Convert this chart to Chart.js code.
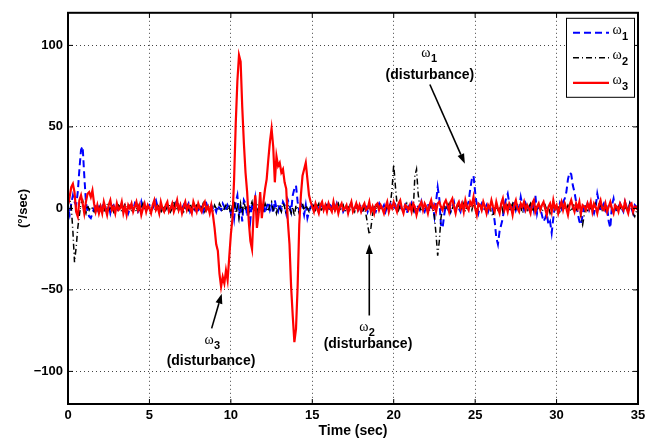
<!DOCTYPE html>
<html>
<head>
<meta charset="utf-8">
<script src="https://cdn.jsdelivr.net/npm/chart.js@4/dist/chart.umd.min.js"></script>
<style>
  html, body { margin: 0; padding: 0; background: #fff; }
</style>
</head>
<body>
<canvas id="grafico" width="658" height="441"></canvas>
<script>
// sample step of the recorded angular rates (sec)
var dt = 0.1;
var xTicks = [0, 5, 10, 15, 20, 25, 30, 35];
var yTicks = [-100, -50, 0, 50, 100];
var nombres = ['1', '2', '3'];

// omega 1 (blue, dashed), one row per second
var omega1 = [
  0, -4, 3, 8, 4, 2, 10, 24, 36, 38,
  20, 4, -2, -5, -6, -3, 0, 2, -1, 1,
  -2, 1, 3, -1, 0, 2, -3, 1, 2, -1,
  1, -2, 0, 3, -1, 2, 1, -3, 0, 2,
  -1, 3, 1, -2, 0, 4, -1, 2, -2, 1,
  2, -1, 0, 3, 5, 1, -2, 0, 2, -1,
  1, 3, -2, 0, 2, -1, 3, 5, 1, -2,
  0, 2, -1, 1, 3, -2, 0, 1, -1, 2,
  -1, 0, 2, -2, 1, 3, 0, -1, 2, 0,
  1, -2, 2, 0, -1, 3, 1, -2, 2, 0,
  -3, 2, -6, 4, 8, -4, 2, -8, 5, 3,
  -5, 2, -7, 4, -2, 6, -4, 0, 3, -2,
  2, -3, 1, 4, -1, 2, -3, 5, 0, -2,
  3, -1, 4, 2, -3, 5, 2, -2, 8, 12,
  14, 4, -2, 3, 1, -4, 2, -6, -2, 1,
  2, -1, 0, 3, -2, 1, 2, -1, 0, 2,
  -1, 2, 1, -2, 0, 3, -1, 1, 2, -2,
  0, 1, -2, 2, 3, -1, 0, 2, -2, 1,
  2, -1, 0, 3, -2, 1, -1, 2, 0, -2,
  1, 3, -1, 0, 2, -2, 1, 0, 3, -1,
  0, 2, -2, 1, 4, -1, 0, 2, -3, 1,
  -1, 3, 0, -2, 2, 1, -1, 4, 0, -2,
  1, 3, -2, 0, 2, -5, 4, 13, 6, -10,
  -12, -4, 2, 0, 3, -2, 1, 4, -1, 2,
  0, -2, 3, 1, -1, 2, 4, 12, 18, 20,
  10, 2, -3, 1, 3, -1, 0, 2, -2, 1,
  2, -1, -8, -18, -22, -14, -10, -6, 2, 6,
  9, 3, -2, 1, 4, -1, 2, 0, 7, 2,
  -1, 3, 0, -2, 2, 4, -1, 8, -3, 2,
  0, -4, -8, -6, -3, -10, -8, -15, -6, 2,
  1, -2, 3, 0, 4, 6, 10, 18, 22, 21,
  14, 10, 4, -3, -8, -10, -4, 2, 0, 3,
  -1, 2, 0, -3, 1, 9, 4, -2, 1, 3,
  -1, 2, -8, -12, 2, 6, 0, -2, 1, 3,
  0, -2, 4, 1, -1, 3, 0, -3, 2, 1,
  0
];

// omega 2 (black, dash-dot)
var omega2 = [
  2, 6, 1, -14, -33, -24, -12, -4, 3, 5,
  0, -3, 2, -1, 1, 0, -2, 2, 1, -1,
  2, 0, -2, 1, 3, -1, 0, 2, -2, 1,
  -1, 2, 1, -2, 0, 3, -1, 1, 2, -2,
  0, 1, -2, 2, -1, 0, 3, -1, 1, 0,
  2, -2, 1, 0, -1, 2, 1, -3, 0, 2,
  -1, 1, 3, -2, 0, 4, -1, 2, -2, 1,
  0, -2, 2, 1, -1, 3, 0, -2, 1, 2,
  -1, 1, 0, 3, -2, 0, 2, -1, 1, -2,
  2, 0, -1, 3, 1, -2, 0, 2, -1, 1,
  -4, 2, 5, -3, 1, -6, 3, -2, 4, 0,
  2, -3, 1, 4, -2, 0, 3, -4, 1, 2,
  -1, 3, 0, -2, 2, 4, -1, 1, -3, 2,
  0, -2, 3, 1, -4, 2, 0, -3, 1, -5,
  2, 0, -3, 1, 3, -1, 2, 0, -2, 1,
  0, 2, -1, 1, 3, -2, 0, 1, -1, 2,
  1, -1, 0, 2, -2, 1, 3, -1, 0, 2,
  -2, 0, 1, -1, 2, 0, -2, 3, 1, -1,
  0, -2, 1, -4, -10, -16, -12, -4, 1, 0,
  2, -1, 1, 0, -2, 2, 0, 1, 3, 12,
  27, 14, 3, -1, 2, 0, -2, 1, 3, -1,
  0, 2, -1, 20, 24, 9, 1, -2, 0, 2,
  1, -2, 0, 2, 1, -5, -16, -29, -20, -6,
  0, 2, -1, 1, 3, -2, 0, 2, -1, 1,
  2, -1, 0, 3, -2, 1, 0, 2, -1, 3,
  1, -2, 0, 2, -1, 3, 0, -2, 1, 2,
  -3, -5, 1, 2, -1, 0, 3, -2, 1, 0,
  2, -1, 1, 3, -2, 0, 2, -1, 1, -3,
  0, 2, -1, 1, 3, -2, 0, 1, -1, 2,
  1, -2, 0, 2, -1, 1, -3, 0, 2, -1,
  0, 2, -2, 1, 0, 3, -1, 2, 0, -2,
  1, 3, -1, 0, 2, -6, -10, -4, 1, -1,
  2, 0, -2, 1, 3, -1, 0, 2, -1, 1,
  0, -2, 1, 3, -1, 0, 2, -2, 1, 0,
  2, -1, 0, 1, -2, 3, 0, -3, -5, -2,
  0
];

// omega 3 (red, solid)
var omega3 = [
  2, 7, 13, 15, 10, -2, -5, 5, 8, 3,
  -3, 4, 9, 10, 7, 11, 3, -2, 2, -3,
  1, -3, 4, 0, -4, 2, 5, -1, 1, -3,
  3, -1, 0, 4, -3, 1, -4, 2, 0, 3,
  -2, 1, 4, -1, 2, -4, 0, 3, -2, 2,
  0, -3, 2, 5, -1, 1, -3, 4, 0, -2,
  2, 4, -2, 0, 3, -2, 1, 5, -1, 2,
  -3, 1, 4, -1, 2, 0, -3, 4, 1, -2,
  3, 0, -2, 2, 4, -1, 1, -3, 2, -4,
  -12, -22, -26, -40, -48, -42, -46, -38, -44, -30,
  -16, -6, 18, 52, 78, 94, 90, 62, 40, 22,
  10, -8, -20, -25, -2, 8, -12, -4, 10, -6,
  4, 12, 18, 30, 41, 49, 38, 16, 32, 26,
  28, 22, 24, 16, 12, -8, -22, -48, -66, -82,
  -74, -48, -10, 8, 20, 24, 28, 18, 8, 4,
  1, -2, 3, 0, -3, 2, 4, -1, 2, -2,
  3, 0, -2, 4, -1, 2, -3, 1, 3, -1,
  0, 2, -3, 1, 4, -2, 0, 3, -1, 2,
  -2, 1, 3, -1, 0, 4, -2, 1, -3, 2,
  3, -1, 2, 0, -3, 1, 4, -2, 2, 0,
  4, 1, -2, 3, 5, 0, -3, 2, 1, -1,
  2, -2, 3, 1, -4, 0, 2, 4, -1, 3,
  1, -3, 2, 5, 0, 2, -2, 3, 4, 1,
  -1, 3, 5, 2, -2, 4, 6, 1, -3, 2,
  4, 0, 3, -2, 5, 1, -1, 4, 2, 7,
  0, -4, 3, 2, -1, 4, 1, -3, 2, 0,
  5, 1, -2, 4, 0, -3, 3, 6, -1, 2,
  -2, 3, 1, -4, 2, 5, 0, -2, 3, 1,
  4, -1, 2, 0, -3, 3, 5, -2, 1, 3,
  -1, 2, 4, 0, -4, 1, 3, -2, 5, 0,
  2, -3, 1, 4, -1, 3, 0, -4, 2, 5,
  1, -2, 3, 0, 4, -3, 2, 1, -1, 3,
  0, 4, -2, 3, 1, -3, 2, 5, 0, -1,
  3, -2, 1, 4, 0, -3, 2, 1, -2, 3,
  1, -1, 4, 0, -3, 2, 3, -2, 1, 0,
  2
];

// disturbance notes, in data units (sec, deg/sec)
var notas = [
  { n: '1', sym: [21.98, 95.4], txt: [22.22, 81.5], desde: [22.22, 76], hasta: [24.37, 27.4] },
  { n: '3', sym: [8.66, -81], txt: [8.78, -93.6], desde: [8.82, -73.6], hasta: [9.44, -52.3] },
  { n: '2', sym: [18.17, -73], txt: [18.42, -83.3], desde: [18.5, -65.7], hasta: [18.5, -21.9] }
];

var colores = ['#0000ff', '#000000', '#ff0000'];
var guiones = [[7, 4], [6, 3, 1, 3], []];
var anchos = [2, 1.5, 2.2];

function puntos(serie) {
  return serie.map(function (v, i) { return { x: i * dt, y: v }; });
}

function menos(v) {
  return v < 0 ? '\u2212' + Math.abs(v) : '' + v;
}

function flecha(ctx, x1, y1, x2, y2) {
  var ang = Math.atan2(y2 - y1, x2 - x1);
  var L = 10, W = 3.5;
  var bx = x2 - L * Math.cos(ang), by = y2 - L * Math.sin(ang);
  ctx.beginPath();
  ctx.moveTo(x1, y1);
  ctx.lineTo(bx, by);
  ctx.stroke();
  ctx.beginPath();
  ctx.moveTo(x2, y2);
  ctx.lineTo(bx + W * Math.sin(ang), by - W * Math.cos(ang));
  ctx.lineTo(bx - W * Math.sin(ang), by + W * Math.cos(ang));
  ctx.closePath();
  ctx.fill();
}

function omega(ctx, x, y, n) {
  ctx.textAlign = 'center';
  ctx.textBaseline = 'middle';
  ctx.font = '14px "Liberation Serif"';
  ctx.fillText('\u03c9', x, y);
  ctx.font = 'bold 11px "Liberation Sans"';
  ctx.fillText(n, x + 8, y + 6);
}

var marco = {
  id: 'marco',
  afterDatasetsDraw: function (chart) {
    var ctx = chart.ctx, a = chart.chartArea;
    var sx = chart.scales.x, sy = chart.scales.y;
    ctx.save();
    ctx.strokeStyle = '#000';
    ctx.fillStyle = '#000';
    ctx.lineWidth = 2;
    ctx.strokeRect(a.left, a.top, a.right - a.left, a.bottom - a.top);
    ctx.lineWidth = 1;
    ctx.beginPath();
    xTicks.forEach(function (t) {
      var px = sx.getPixelForValue(t);
      ctx.moveTo(px, a.bottom); ctx.lineTo(px, a.bottom - 5);
      ctx.moveTo(px, a.top); ctx.lineTo(px, a.top + 5);
    });
    yTicks.forEach(function (t) {
      var py = sy.getPixelForValue(t);
      ctx.moveTo(a.left, py); ctx.lineTo(a.left + 5, py);
      ctx.moveTo(a.right, py); ctx.lineTo(a.right - 5, py);
    });
    ctx.stroke();

    // notes with arrows
    ctx.lineWidth = 1.6;
    notas.forEach(function (m) {
      flecha(ctx, sx.getPixelForValue(m.desde[0]), sy.getPixelForValue(m.desde[1]),
        sx.getPixelForValue(m.hasta[0]), sy.getPixelForValue(m.hasta[1]));
      omega(ctx, sx.getPixelForValue(m.sym[0]), sy.getPixelForValue(m.sym[1]), m.n);
      ctx.font = 'bold 14px "Liberation Sans"';
      ctx.textAlign = 'center';
      ctx.textBaseline = 'middle';
      ctx.fillText('(disturbance)', sx.getPixelForValue(m.txt[0]), sy.getPixelForValue(m.txt[1]));
    });

    // legend box
    var lx = a.right - 72, ly = a.top + 5, lw = 68, lh = 79;
    ctx.fillStyle = '#fff';
    ctx.fillRect(lx, ly, lw, lh);
    ctx.lineWidth = 1;
    ctx.strokeRect(lx + 0.5, ly + 0.5, lw, lh);
    for (var i = 0; i < 3; i++) {
      var yy = ly + 15 + i * 25;
      ctx.strokeStyle = colores[i];
      ctx.lineWidth = anchos[i];
      ctx.setLineDash(guiones[i]);
      ctx.beginPath();
      ctx.moveTo(lx + 7, yy);
      ctx.lineTo(lx + 43, yy);
      ctx.stroke();
      ctx.setLineDash([]);
      ctx.fillStyle = '#000';
      omega(ctx, lx + 51, yy - 2, nombres[i]);
    }
    ctx.restore();
  }
};

var chart_omega = new Chart(document.getElementById('grafico').getContext('2d'), {
  type: 'line',
  data: {
    datasets: [
      { label: '\u03c9\u2081', data: puntos(omega1), borderColor: colores[0], borderDash: guiones[0], borderWidth: anchos[0], order: 3 },
      { label: '\u03c9\u2082', data: puntos(omega2), borderColor: colores[1], borderDash: guiones[1], borderWidth: anchos[1], order: 2 },
      { label: '\u03c9\u2083', data: puntos(omega3), borderColor: colores[2], borderDash: guiones[2], borderWidth: anchos[2], order: 1 }
    ]
  },
  options: {
    responsive: false,
    animation: false,
    devicePixelRatio: 1,
    events: [],
    layout: { padding: { top: 10, right: 20, left: 0, bottom: 0 } },
    elements: { point: { radius: 0 }, line: { tension: 0, fill: false } },
    plugins: { legend: { display: false }, tooltip: { enabled: false } },
    scales: {
      x: {
        type: 'linear', min: 0, max: 35,
        afterBuildTicks: function (s) { s.ticks = xTicks.map(function (v) { return { value: v }; }); },
        afterFit: function (s) { s.height = 37; },
        ticks: { color: '#000', padding: 4, font: { family: 'Liberation Sans', weight: 'bold', size: 13 } },
        grid: { color: '#444', lineWidth: 1, drawTicks: false },
        border: { display: false, dash: [1, 3] },
        title: { display: true, text: 'Time (sec)', color: '#000', padding: { top: 0, bottom: 1 },
          font: { family: 'Liberation Sans', weight: 'bold', size: 14 } }
      },
      y: {
        min: -120, max: 120,
        afterBuildTicks: function (s) { s.ticks = yTicks.map(function (v) { return { value: v }; }); },
        afterFit: function (s) { s.width = 68; },
        ticks: { color: '#000', padding: 5, callback: menos,
          font: { family: 'Liberation Sans', weight: 'bold', size: 13 } },
        grid: { color: '#444', lineWidth: 1, drawTicks: false },
        border: { display: false, dash: [1, 3] },
        title: { display: true, text: '(\u00b0/sec)', color: '#000', padding: { top: 16, bottom: 0 },
          font: { family: 'Liberation Sans', weight: 'bold', size: 13 } }
      }
    }
  },
  plugins: [marco]
});
</script>
</body>
</html>
